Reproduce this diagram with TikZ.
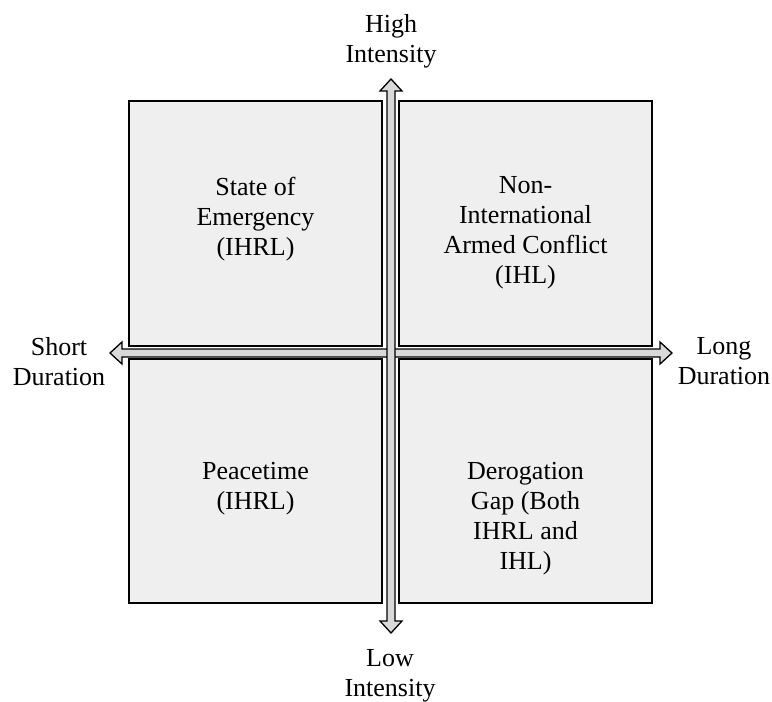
\documentclass[tikz,border=0pt]{standalone}
\usepackage{fontspec}
\setmainfont{Liberation Serif}
\usetikzlibrary{calc}
\definecolor{boxfill}{HTML}{EFEFEF}
\definecolor{arrowfill}{HTML}{D9D9D9}
\begin{document}
\begin{tikzpicture}[x=1pt,y=-1pt,
  quad/.style={draw=black,line width=1.6pt,fill=boxfill},
  fatarrow/.style={draw=black,line width=1.3pt,fill=arrowfill,line join=miter},
  lbl/.style={font=\fontsize{26}{30}\selectfont,align=center,inner sep=0pt,anchor=north},
  qtext/.style={lbl}]
\useasboundingbox (0,0) rectangle (772,702);
% quadrants
\draw[quad] (129,101) rectangle (382,346);
\draw[quad] (399,101) rectangle (652,346);
\draw[quad] (129,359) rectangle (382,603);
\draw[quad] (399,359) rectangle (652,603);
% horizontal double arrow
\coordinate (hl) at (110,353);
\coordinate (hr) at (672,353);
\draw[fatarrow] (hl) -- ++(12,-11) -- ++(0,7) -- ($(hr)+(-12,-4)$) -- ++(0,-7) -- (hr) -- ++(-12,11) -- ++(0,-7) -- ($(hl)+(12,4)$) -- ++(0,7) -- cycle;
% vertical double arrow
\coordinate (vt) at (391,79);
\coordinate (vb) at (391,633);
\draw[fatarrow] (vt) -- ++(11,12) -- ++(-7,0) -- ($(vb)+(4,-12)$) -- ++(7,0) -- (vb) -- ++(-11,-12) -- ++(7,0) -- ($(vt)+(-4,12)$) -- ++(-7,0) -- cycle;
% axis labels
\node[lbl] (high) at (391,14) {High\\Intensity};
\node[lbl] (low) at (390,649) {Low\\Intensity};
\node[lbl] (short) at (59,337) {Short\\Duration};
\node[lbl] (long) at (724,337) {Long\\Duration};
% quadrant texts
\node[qtext] (tl) at (255.5,177) {State of\\Emergency\\(IHRL)};
\node[qtext] (tr) at (525.5,176) {Non-\\International\\Armed Conflict\\(IHL)};
\node[qtext] (bl) at (255.5,462) {Peacetime\\(IHRL)};
\node[qtext] (br) at (525.5,462) {Derogation\\Gap (Both\\IHRL and\\IHL)};
\end{tikzpicture}
\end{document}
